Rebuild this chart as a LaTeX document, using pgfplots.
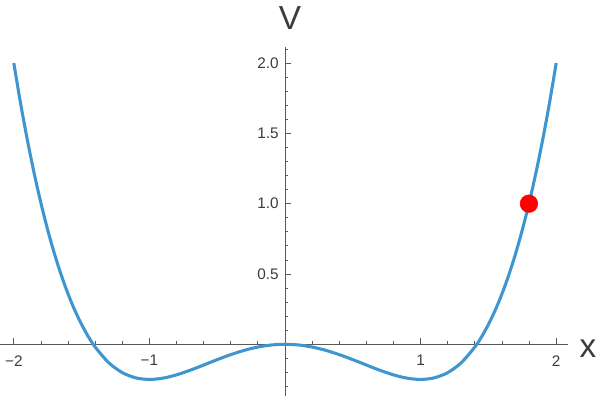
\documentclass[border=0pt]{standalone}
\usepackage{fontspec}
\setmainfont{Liberation Sans}
\usepackage{pgfplots}
\pgfplotsset{compat=1.18}
\definecolor{curveblue}{RGB}{62,149,208}
\definecolor{axgray}{RGB}{90,90,90}
\definecolor{lblgray}{RGB}{60,60,60}
\begin{document}
\begin{tikzpicture}
\begin{axis}[
  at={(213.75pt,-258.2pt)}, anchor=origin,
  x=101.7pt, y=105.45pt,
  xmin=-2.1, xmax=2.085, ymin=-0.368, ymax=2.117,
  axis lines=middle,
  axis line style={axgray, line width=0.6pt, -},
  tick align=inside,
  major tick length=4.5pt, minor tick length=2.6pt,
  every tick/.style={axgray, line width=0.6pt},
  xtick={-2,-1,1,2}, xticklabels={−2,−1,1,2},
  ytick={0.5,1,1.5,2}, yticklabels={0.5,1.0,1.5,2.0},
  minor xtick={-1.8,-1.6,-1.4,-1.2,-0.8,-0.6,-0.4,-0.2,0.2,0.4,0.6,0.8,1.2,1.4,1.6,1.8},
  minor ytick={-0.3,-0.2,-0.1,0.1,0.2,0.3,0.4,0.6,0.7,0.8,0.9,1.1,1.2,1.3,1.4,1.6,1.7,1.8,1.9,2.1},
  xticklabel style={font=\fontsize{11.5}{13}\selectfont, text=lblgray, anchor=center, inner sep=0pt, yshift=-12.3pt},
  yticklabel style={font=\fontsize{11.5}{13}\selectfont, text=lblgray, anchor=east, inner sep=0pt, xshift=-4.5pt},
  xlabel={x}, ylabel={V},
  every axis x label/.style={at={(axis cs:2.234,-0.03)}, anchor=center, font=\fontsize{25}{28}\selectfont, text=lblgray},
  every axis y label/.style={at={(axis cs:0.037,2.32)}, anchor=center, font=\fontsize{25}{28}\selectfont, text=lblgray},
  clip=false,
]
\addplot[curveblue, line width=2.3pt, smooth] coordinates {
(-2.0,2.0) (-1.95,1.7135) (-1.9,1.453025) (-1.85,1.21713) (-1.8,1.0044) (-1.75,0.81348) (-1.7,0.643025) (-1.65,0.49175) (-1.6,0.3584) (-1.55,0.24175) (-1.5,0.140625) (-1.45,0.05388)
(-1.4,-0.0196) (-1.3,-0.130975) (-1.2,-0.2016) (-1.1,-0.238975) (-1.0,-0.25) (-0.9,-0.240975) (-0.8,-0.2176) (-0.7,-0.184975) (-0.6,-0.1476) (-0.5,-0.109375) (-0.4,-0.0736) (-0.3,-0.042975) (-0.2,-0.0196) (-0.1,-0.004975)
(0,0)
(0.1,-0.004975) (0.2,-0.0196) (0.3,-0.042975) (0.4,-0.0736) (0.5,-0.109375) (0.6,-0.1476) (0.7,-0.184975) (0.8,-0.2176) (0.9,-0.240975) (1.0,-0.25) (1.1,-0.238975) (1.2,-0.2016) (1.3,-0.130975) (1.4,-0.0196)
(1.45,0.05388) (1.5,0.140625) (1.55,0.24175) (1.6,0.3584) (1.65,0.49175) (1.7,0.643025) (1.75,0.81348) (1.8,1.0044) (1.85,1.21713) (1.9,1.453025) (1.95,1.7135) (2.0,2.0)
};
\addplot[only marks, mark=*, mark size=6.6pt, color=red, fill=red] coordinates {(1.799,1.0)};
\end{axis}
\pgfresetboundingbox
\path (0,0) rectangle (450pt,-300.75pt);
\end{tikzpicture}
\end{document}
